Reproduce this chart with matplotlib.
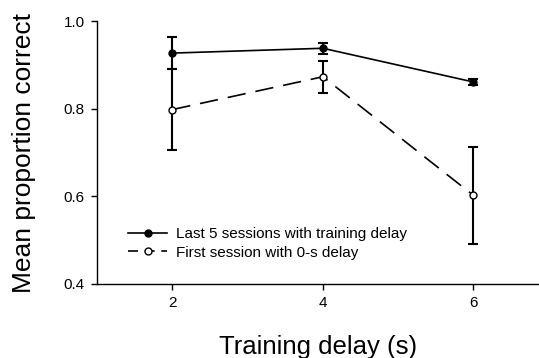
import matplotlib.pyplot as plt
from matplotlib.lines import Line2D

plt.rcParams['font.family'] = ['Liberation Sans', 'DejaVu Sans']

delays = [2, 4, 6]

# last 5 sessions with the training delay
last5_mean = [0.927, 0.938, 0.861]
last5_err = [0.036, 0.012, 0.007]

# first session with 0-s delay
first_mean = [0.798, 0.873, 0.602]
first_err = [0.093, 0.036, 0.110]

fig = plt.figure(figsize=(5.39, 3.58), dpi=100)
ax = fig.add_axes([0.18, 0.207, 0.82, 0.734])

ax.errorbar(delays, last5_mean, yerr=last5_err, color='black', lw=1.2,
            marker='o', ms=5, mfc='black', mec='black', capsize=3.5,
            elinewidth=1.5, capthick=1.5)
ax.errorbar(delays, first_mean, yerr=first_err, color='black', lw=1.2,
            dashes=(11, 6), marker='o', ms=5, mfc='white', mec='black',
            capsize=3.5, elinewidth=1.5, capthick=1.5)

ax.set_xlim(1, 6.87)
ax.set_ylim(0.4, 1.0)
ax.set_xticks(delays)
ax.set_yticks([0.4, 0.6, 0.8, 1.0])
ax.set_yticklabels(['0.4', '0.6', '0.8', '1.0'])

for side in ['top', 'right']:
    ax.spines[side].set_visible(False)
for side in ['left', 'bottom']:
    ax.spines[side].set_linewidth(1.0)
ax.tick_params(direction='out', length=4, width=1, labelsize=11, pad=5)

ax.set_xlabel('Training delay (s)', fontsize=18.5, labelpad=18)
ax.set_ylabel('Mean proportion correct', fontsize=19, labelpad=20)

handles = [
    Line2D([], [], color='black', lw=1.2, marker='o', ms=5, mfc='black'),
    Line2D([], [], color='black', lw=1.2, dashes=(6, 4), marker='o', ms=5,
           mfc='white'),
]
labels = ['Last 5 sessions with training delay', 'First session with 0-s delay']
ax.legend(handles, labels, loc='lower left', bbox_to_anchor=(0.04, 0.04),
          frameon=False, fontsize=11, handlelength=2.5, handletextpad=0.6,
          labelspacing=0.3)

fig.savefig('out.png', dpi=100)
